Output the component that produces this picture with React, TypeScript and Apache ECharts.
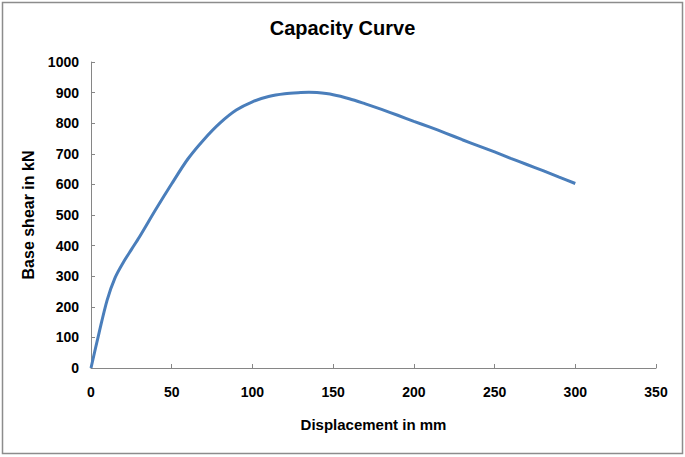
import React, { useEffect, useRef } from "react";
import * as echarts from "echarts";

const displacement = [0, 5, 10, 15, 20, 25, 30, 40, 50, 60, 70, 80, 90, 100, 110, 120, 130, 135, 140, 150, 160, 170, 180, 190, 200, 210, 220, 230, 240, 250, 260, 270, 280, 290, 300];
const baseShear = [0, 115, 222, 296, 345, 387, 428, 517, 602, 683, 747, 801, 843, 870, 887, 896, 900, 901, 900, 893, 880, 863, 845, 826, 806, 787, 767, 746, 726, 706, 685, 665, 645, 624, 603];
const xTicks = { min: 0, max: 350, interval: 50 };
const yTicks = { min: 0, max: 1000, interval: 100 };

const FONT = "'Liberation Sans', Arial, sans-serif";

export default function App() {
  const ref = useRef<HTMLDivElement>(null);
  useEffect(() => {
    if (!ref.current) return;
    const chart = echarts.init(ref.current, null, { renderer: "svg" });
    chart.setOption({
      animation: false,
      backgroundColor: "#ffffff",
      title: {
        text: "Capacity Curve",
        left: "center",
        top: 13,
        textStyle: { fontFamily: FONT, fontWeight: "bold", fontSize: 20, color: "#000" },
      },
      grid: { left: 91, right: 29, top: 62, bottom: 89 },
      xAxis: {
        type: "value",
        ...xTicks,
        name: "Displacement in mm",
        nameLocation: "middle",
        nameGap: 49,
        nameTextStyle: { fontFamily: FONT, fontWeight: "bold", fontSize: 15, color: "#000" },
        axisLine: { lineStyle: { color: "#868686", width: 1 } },
        axisTick: { inside: true, length: 4, lineStyle: { color: "#868686" } },
        axisLabel: { fontFamily: FONT, fontWeight: "bold", fontSize: 14, color: "#000", margin: 17, formatter: (v: number) => String(v) },
        splitLine: { show: false },
      },
      yAxis: {
        type: "value",
        ...yTicks,
        name: "Base shear in kN",
        nameLocation: "middle",
        nameGap: 54,
        nameTextStyle: { fontFamily: FONT, fontWeight: "bold", fontSize: 16, color: "#000" },
        axisLine: { show: true, lineStyle: { color: "#868686", width: 1 } },
        axisTick: { show: true, inside: true, length: 4, lineStyle: { color: "#868686" } },
        axisLabel: { fontFamily: FONT, fontWeight: "bold", fontSize: 14, color: "#000", margin: 12, formatter: (v: number) => String(v) },
        splitLine: { show: false },
      },
      series: [
        {
          type: "line",
          data: displacement.map((d, i) => [d, baseShear[i]]),
          smooth: 0.3,
          showSymbol: false,
          lineStyle: { color: "#4A7EBB", width: 3 },
        },
      ],
      graphic: [
        {
          type: "rect",
          shape: { x: 2.5, y: 2.5, width: 680, height: 451 },
          style: { fill: "none", stroke: "#8c8c8c", lineWidth: 1.5 },
          silent: true,
        },
      ],
    });
    return () => chart.dispose();
  }, []);
  return <div ref={ref} style={{ position: "fixed", left: 0, top: 0, width: 685, height: 457 }} />;
}
